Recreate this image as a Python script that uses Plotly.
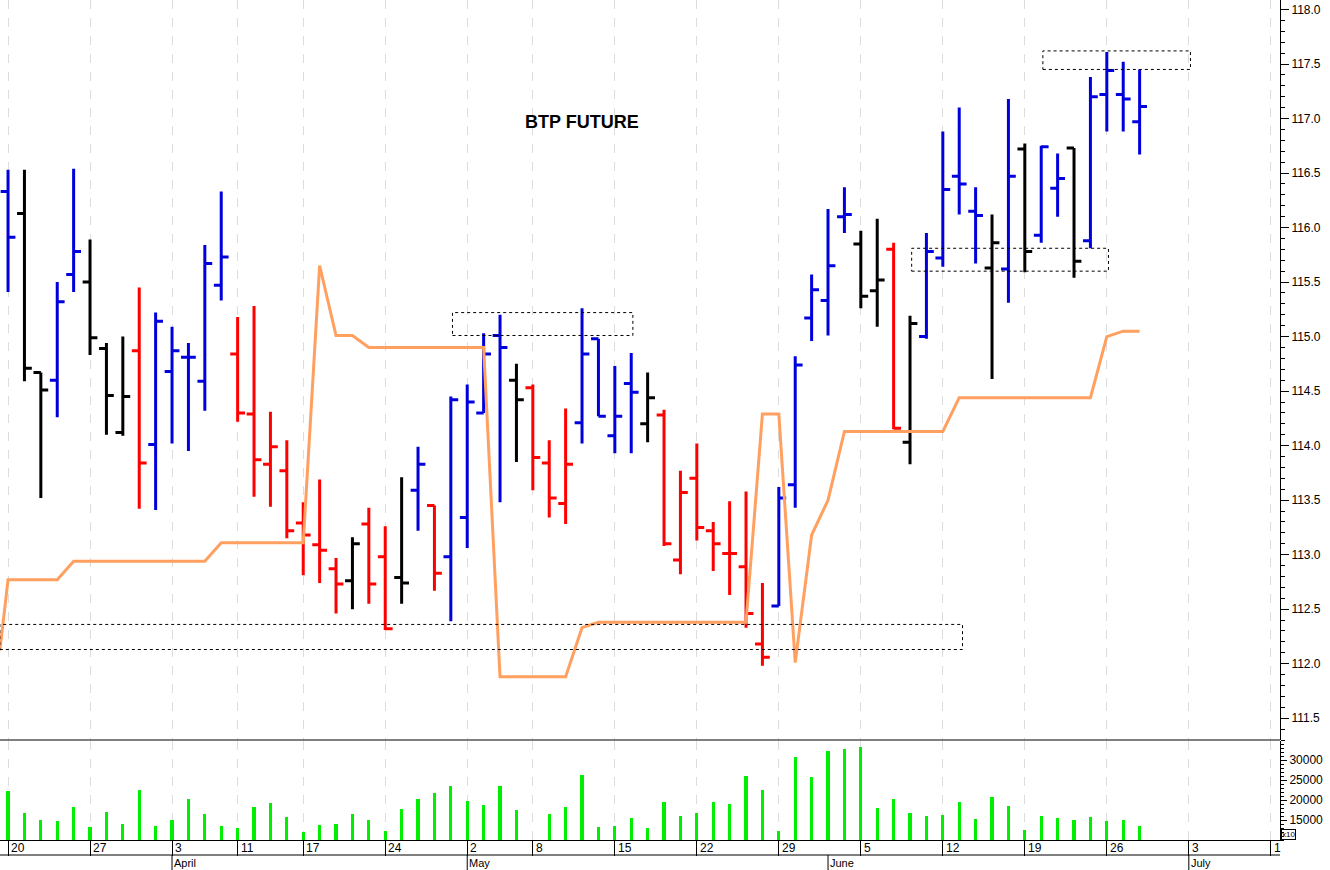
import plotly.graph_objects as go

# ---- data (trading-day index) ----
idx = list(range(70))
opens = [116.33,116.13,114.67,114.60,115.57,115.50,114.89,114.12,114.87,114.01,
         114.68,114.81,114.59,115.47,114.84,114.29,113.83,113.77,113.29,113.09,
         112.87,112.76,113.28,112.98,112.79,113.59,113.45,112.98,113.34,114.30,
         115.01,114.60,114.53,113.84,113.47,114.21,114.98,114.09,114.57,114.20,
         114.28,112.95,113.70,113.22,113.01,112.89,112.18,112.53,113.64,115.17,
         115.33,116.10,115.85,115.42,115.80,114.03,115.00,115.72,116.47,116.15,
         115.63,115.62,116.72,115.93,116.36,116.73,115.88,117.22,117.22,116.97]
highs = [116.53,116.53,114.67,115.50,116.54,115.89,114.94,115.00,115.45,115.22,
         115.09,114.94,115.84,116.33,115.18,115.28,114.31,114.05,113.48,113.69,
         112.97,113.16,113.43,113.26,113.71,113.99,113.45,114.45,114.56,115.03,
         115.20,114.75,114.56,114.05,114.34,115.26,114.98,114.73,114.85,114.67,
         114.33,113.77,114.02,113.30,113.49,113.58,112.74,113.62,114.82,115.57,
         116.17,116.37,115.97,116.08,115.86,115.19,115.95,116.88,117.10,116.37,
         116.12,117.18,116.77,116.75,116.68,116.73,117.38,117.61,117.52,117.45]
lows = [115.41,114.59,113.52,114.26,115.41,114.83,114.10,114.09,113.42,113.41,
        114.02,113.95,114.32,115.33,114.22,113.53,113.44,113.15,112.81,112.74,
        112.46,112.50,112.55,112.31,112.55,113.22,112.67,112.39,113.06,114.30,
        113.48,113.85,113.59,113.34,113.28,114.02,114.27,113.93,113.93,114.03,
        113.08,112.82,113.13,112.85,112.63,112.33,111.98,112.53,113.43,114.96,
        115.01,115.95,115.26,115.09,114.15,113.83,114.98,115.64,116.12,115.67,
        114.61,115.31,115.59,115.86,116.10,115.54,115.81,116.88,116.88,116.67]
closes = [115.91,114.71,114.51,115.32,115.78,114.99,114.46,114.45,113.84,115.14,
          114.87,114.81,115.67,115.73,114.30,113.87,113.99,113.22,113.18,113.04,
          112.73,113.10,112.73,112.32,112.74,113.83,112.83,114.42,114.40,114.84,
          114.90,114.42,113.89,113.52,113.83,114.84,114.27,114.27,114.49,114.44,
          113.10,113.57,113.25,113.10,113.01,112.46,112.06,113.52,114.74,115.43,
          115.65,116.12,115.37,115.52,114.16,115.12,115.78,116.35,116.40,116.11,
          115.86,116.47,115.78,116.74,116.45,115.69,117.20,117.44,117.18,117.11]
bar_colors = list("BKKBBKKKRBBBBBRRRRRRRKRRKBRBBBBKRRRBBBBKRRRRRRRBBBBBKKRKBBBBKBKBBKBBBB")

stop_x = [-0.5,0,3,4,12,13,18,19,20,21,22,29,30,34,35,36,45,46,47,48,49,50,51,57,58,66,67,68,69]
stop_y = [112.12,112.77,112.77,112.94,112.94,113.11,113.11,115.65,115.01,115.01,114.90,114.90,
          111.88,111.88,112.33,112.38,112.38,114.29,114.29,112.01,113.18,113.50,114.13,114.13,
          114.44,114.44,115.00,115.05,115.05]

volume = [22250,16750,15000,14750,18250,13250,17000,14000,22500,13500,
          15000,20250,16500,13500,13000,18250,19250,15750,12000,13750,
          14000,16500,15000,12250,17750,20250,21750,23500,19750,18750,
          23500,17500,10100,16500,18250,26250,13250,13500,15500,13000,
          19500,16000,16750,19500,19000,26000,22500,12250,30750,25750,
          32250,32750,33250,18000,20250,16750,16000,16250,19500,15250,
          20750,18500,12500,16000,15500,15000,15750,14750,15000,13500]

# dashed boxes: x0, x1, y0, y1
box_x0 = [27.1, -0.5, 55.1, 63.1]
box_x1 = [38.1, 58.2, 67.1, 72.1]
box_y0 = [115.01, 112.13, 115.60, 117.45]
box_y1 = [115.22, 112.36, 115.81, 117.62]

day_ticks = [0,5,10,14,18,23,28,32,37,42,47,52,57,62,67,72,77]
day_labels = ["20","27","3","11","17","24","2","8","15","22","29","5","12","19","26","3","1"]
month_ticks = [10,28,50,72]
month_labels = ["April","May","June","July"]

cmap = {"B": "#0000dd", "K": "#000000", "R": "#ff0000"}
FONT = "Liberation Sans"

fig = go.Figure()
for code, col in cmap.items():
    sel = [i for i in idx if bar_colors[i] == code]
    fig.add_trace(go.Ohlc(
        x=[idx[i] for i in sel], open=[opens[i] for i in sel], high=[highs[i] for i in sel],
        low=[lows[i] for i in sel], close=[closes[i] for i in sel],
        increasing=dict(line=dict(color=col, width=3)),
        decreasing=dict(line=dict(color=col, width=3)),
        tickwidth=0.45, yaxis="y2", xaxis="x", showlegend=False, hoverinfo="skip"))

fig.add_trace(go.Scatter(x=stop_x, y=stop_y, mode="lines", yaxis="y2",
                         line=dict(color="#ffa060", width=3), showlegend=False))
fig.add_trace(go.Bar(x=idx, y=volume, marker=dict(color="#00ee00", line_width=0),
                     width=0.2, yaxis="y", showlegend=False))

for a, b, c, d in zip(box_x0, box_x1, box_y0, box_y1):
    fig.add_shape(type="rect", x0=a, x1=b, y0=c, y1=d, xref="x", yref="y2",
                  line=dict(color="black", width=1, dash="dot"))

H = 840.0
def py(pix):
    return 1 - pix / H

fig.add_shape(type="line", xref="paper", yref="paper", x0=0, x1=1, y0=py(740), y1=py(740),
              line=dict(color="black", width=1))
fig.add_shape(type="line", xref="paper", yref="paper", x0=0, x1=1, y0=py(855), y1=py(855),
              line=dict(color="black", width=1))
for t, lab in zip(day_ticks, day_labels):
    fig.add_annotation(x=t, xref="x", y=py(848), yref="paper", yanchor="middle", text=lab,
                       showarrow=False, xanchor="left", xshift=1,
                       font=dict(family=FONT, size=12, color="black"))
for t, lab in zip(month_ticks, month_labels):
    fig.add_shape(type="line", xref="x", yref="paper", x0=t, x1=t, y0=py(855), y1=py(870),
                  line=dict(color="black", width=1))
    fig.add_annotation(x=t, xref="x", y=py(863), yref="paper", yanchor="middle", text=lab,
                       showarrow=False, xanchor="left", xshift=0,
                       font=dict(family=FONT, size=11, color="black"))

fig.add_annotation(x=0.455, xref="paper", y=py(122), yref="paper", yanchor="middle",
                   text="<b>BTP FUTURE</b>", showarrow=False,
                   font=dict(family=FONT, size=18, color="black"))
fig.add_annotation(x=1, xref="paper", xanchor="left", xshift=1, y=py(834), yref="paper",
                   yanchor="middle", text="x10", showarrow=False, bordercolor="black",
                   borderwidth=1, borderpad=0, font=dict(family=FONT, size=8, color="black"))

fig.update_layout(
    width=1330, height=870, margin=dict(l=0, r=50, t=0, b=30, pad=0),
    paper_bgcolor="white", plot_bgcolor="white", bargap=0,
    xaxis=dict(range=[-0.49, 77.56], tickvals=day_ticks, ticktext=[""] * len(day_ticks),
               ticks="outside", ticklen=15, tickcolor="black", showline=True, linecolor="black",
               showgrid=True, gridcolor="#dcdcdc", griddash="dash", gridwidth=1,
               zeroline=False, rangeslider=dict(visible=False), anchor="y"),
    yaxis=dict(domain=[0, py(741)], range=[10000, 34750], side="right",
               tickvals=[15000, 20000, 25000, 30000], tickformat="d", ticks="outside", ticklen=6,
               minor=dict(dtick=1000, ticks="outside", ticklen=3, tickcolor="black"),
               tickcolor="black", showline=True, linecolor="black", showgrid=False, zeroline=False,
               tickfont=dict(family=FONT, size=12, color="black")),
    yaxis2=dict(domain=[py(740), 1], range=[111.30, 118.087], side="right", anchor="x",
                dtick=0.5, tickformat=".1f", ticks="outside", ticklen=8, tickcolor="black",
                minor=dict(dtick=0.1, ticks="outside", ticklen=4, tickcolor="black"),
                showline=True, linecolor="black", showgrid=False, zeroline=False,
                tickfont=dict(family=FONT, size=12, color="black")),
)
fig.write_html("out.html", config={"displayModeBar": False},
               post_script="document.body.style.margin='0';document.body.style.overflow='hidden';")
